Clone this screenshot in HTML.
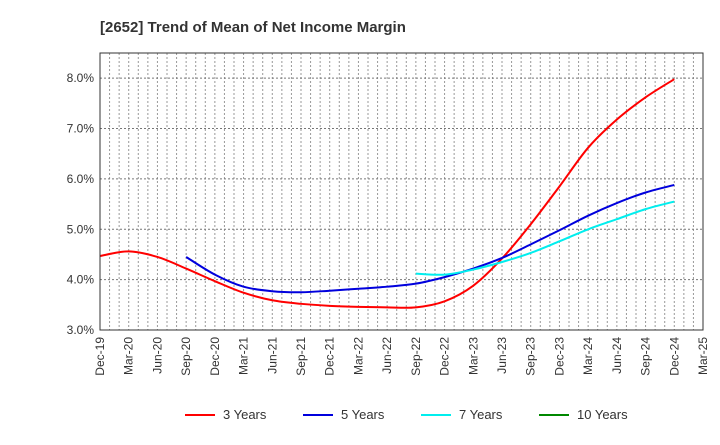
<!DOCTYPE html>
<html><head><meta charset="utf-8"><style>
body{margin:0;background:#fff;font-family:"Liberation Sans",sans-serif}
</style></head><body>
<svg id="c" width="720" height="440" xmlns="http://www.w3.org/2000/svg">
<text x="100" y="32" font-size="15" font-weight="bold" fill="#333">[2652]  Trend of Mean of Net Income Margin</text>
<g id="grid"></g><g id="series"></g><g id="axes"></g><g id="legend"></g>
</svg>
<script>
const xLabels=["Dec-19","Mar-20","Jun-20","Sep-20","Dec-20","Mar-21","Jun-21","Sep-21","Dec-21","Mar-22","Jun-22","Sep-22","Dec-22","Mar-23","Jun-23","Sep-23","Dec-23","Mar-24","Jun-24","Sep-24","Dec-24","Mar-25"];
const yTicks=[3,4,5,6,7,8];
const seriesNames=["3 Years","5 Years","7 Years","10 Years"];
const seriesColors=["#ff0000","#0000dd","#00eeee","#008800"];
const y3=[4.47,4.56,4.45,4.22,3.97,3.74,3.59,3.52,3.48,3.46,3.45,3.45,3.57,3.88,4.42,5.10,5.85,6.62,7.18,7.62,7.98];
const y5=[4.45,4.10,3.86,3.77,3.75,3.78,3.82,3.86,3.92,4.05,4.22,4.43,4.70,4.98,5.27,5.52,5.73,5.88];
const y7=[4.12,4.10,4.20,4.35,4.53,4.76,5.00,5.20,5.40,5.55];
const y10=[];
const starts=[0,3,11,0];
const NS="http://www.w3.org/2000/svg";
const L=100,R=703,T=53,B=330,ymin=3,ymax=8.5;
const xs=q=>L+(R-L)*q/21;
const ys=v=>B-(B-T)*(v-ymin)/(ymax-ymin);
function mk(tag,at,parent){const e=document.createElementNS(NS,tag);for(const k in at)e.setAttribute(k,at[k]);document.getElementById(parent).appendChild(e);return e;}
for(let m=1;m<63;m++){const x=L+(R-L)*m/63;const g=mk("line",{x1:x,x2:x,y1:T,y2:B,stroke:"#999","stroke-dasharray":"2,2","stroke-width":1},"grid");

}
yTicks.forEach(v=>{const y=ys(v);const g=mk("line",{x1:L,x2:R,y1:y,y2:y,stroke:"#777","stroke-dasharray":"2,2"},"grid");


const t=mk("text",{x:L-6,y:y+4,"text-anchor":"end","font-size":12,fill:"#333"},"axes");t.textContent=v.toFixed(1)+"%";

});
const fr=mk("rect",{x:L,y:T,width:R-L,height:B-T,fill:"none",stroke:"#333","stroke-width":1},"axes");


xLabels.forEach((s,i)=>{const x=xs(i);const t=mk("text",{transform:`translate(${x+4},${B+7}) rotate(-90)`,"text-anchor":"end","font-size":12,fill:"#333"},"axes");t.textContent=s;

});
function path(pts){let d=`M${pts[0][0]},${pts[0][1]}`;for(let i=0;i<pts.length-1;i++){const p0=pts[i-1]||pts[i],p1=pts[i],p2=pts[i+1],p3=pts[i+2]||p2;
d+=` C${p1[0]+(p2[0]-p0[0])/6},${p1[1]+(p2[1]-p0[1])/6} ${p2[0]-(p3[0]-p1[0])/6},${p2[1]-(p3[1]-p1[1])/6} ${p2[0]},${p2[1]}`;}return d;}
[y3,y5,y7,y10].forEach((arr,si)=>{if(arr.length<2)return;const pts=arr.map((v,i)=>[xs(starts[si]+i),ys(v)]);
const p=mk("path",{d:path(pts),fill:"none",stroke:seriesColors[si],"stroke-width":2},"series");

});
const lx=[185,303,421,539];
seriesNames.forEach((n,i)=>{const l=mk("line",{x1:lx[i],x2:lx[i]+30,y1:415,y2:415,stroke:seriesColors[i],"stroke-width":2},"legend");


const t=mk("text",{x:lx[i]+38,y:419,"font-size":13,fill:"#333"},"legend");t.textContent=n;

});
</script>
</body></html>
